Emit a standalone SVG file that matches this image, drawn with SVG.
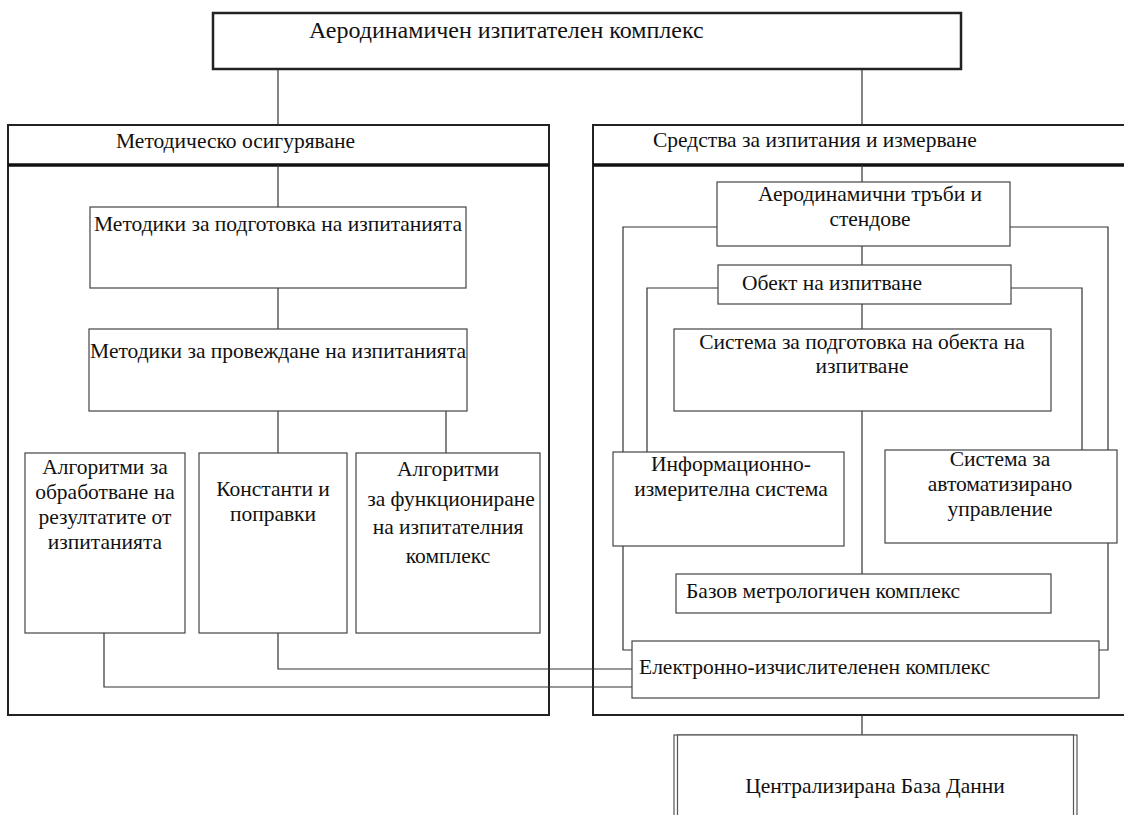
<svg xmlns="http://www.w3.org/2000/svg" width="1124" height="815" viewBox="0 0 1124 815">
<style>
text{font-family:"Liberation Serif","Times New Roman",serif;font-size:21.5px;fill:#111}
.c{text-anchor:middle}
.box{fill:#fff;stroke:#444;stroke-width:1.2}
.panel{fill:#fff;stroke:#222;stroke-width:2}
.hdr{stroke:#111;stroke-width:3.5}
.top{fill:#fff;stroke:#222;stroke-width:2.5}
.dbl{fill:#fff;stroke:#555;stroke-width:1.2}
#connectors path{fill:none;stroke:#333;stroke-width:1.2}
</style>
<rect width="1124" height="815" fill="#fff"/>
<g id="panel-left">
<rect class="panel" x="8" y="125" width="541" height="590"/>
<line class="hdr" x1="8" y1="165" x2="549" y2="165"/>
<text x="116" y="148">Методическо осигуряване</text>
</g>
<g id="panel-right">
<rect class="panel" x="593" y="125" width="545" height="590"/>
<line class="hdr" x1="593" y1="165" x2="1124" y2="165"/>
<text x="653" y="147">Средства за изпитания и измерване</text>
</g>
<g id="connectors">
<path d="M278,69V125"/>
<path d="M862,69V125"/>
<path d="M278,165V207"/>
<path d="M278,288V329"/>
<path d="M278,411V453"/>
<path d="M446,411V453"/>
<path d="M104,633V687H632"/>
<path d="M278,633V669H632"/>
<path d="M862,165V182"/>
<path d="M717,227H623V650H632"/>
<path d="M1010,227H1108V650H1099"/>
<path d="M862,246V265"/>
<path d="M718,288H647V452"/>
<path d="M1011,288H1082V450"/>
<path d="M862,304V329"/>
<path d="M862,411V574"/>
<path d="M862,715V735"/>
</g>
<g id="top">
<rect class="top" x="213" y="13" width="748" height="56"/>
<text x="309" y="38" style="font-size:24px">Аеродинамичен изпитателен комплекс</text>
</g>
<g id="m-podgotovka">
<rect class="box" x="90" y="207" width="376" height="81"/>
<text class="c" x="278" y="231">Методики за подготовка на изпитанията</text>
</g>
<g id="m-provezhdane">
<rect class="box" x="89" y="329" width="378" height="82"/>
<text class="c" x="278" y="358">Методики за провеждане на изпитанията</text>
</g>
<g id="algoritmi-obr">
<rect class="box" x="25" y="453" width="160" height="180"/>
<text class="c" x="105" y="474">Алгоритми за</text>
<text class="c" x="105" y="499">обработване на</text>
<text class="c" x="105" y="524">резултатите от</text>
<text class="c" x="105" y="549">изпитанията</text>
</g>
<g id="konstanti">
<rect class="box" x="199" y="453" width="148" height="180"/>
<text class="c" x="273" y="496">Константи и</text>
<text class="c" x="273" y="521">поправки</text>
</g>
<g id="algoritmi-funk">
<rect class="box" x="356" y="453" width="184" height="180"/>
<text class="c" x="448" y="476">Алгоритми</text>
<text class="c" x="451" y="506">за функциониране</text>
<text class="c" x="448" y="534">на изпитателния</text>
<text class="c" x="448" y="563">комплекс</text>
</g>
<g id="aero-trubi">
<rect class="box" x="717" y="182" width="293" height="64"/>
<text class="c" x="870" y="201">Аеродинамични тръби и</text>
<text class="c" x="870" y="226">стендове</text>
</g>
<g id="obekt">
<rect class="box" x="718" y="265" width="293" height="39"/>
<text x="742" y="290">Обект на изпитване</text>
</g>
<g id="sistema-podgotovka">
<rect class="box" x="674" y="329" width="377" height="82"/>
<text class="c" x="862" y="349">Система за подготовка на обекта на</text>
<text class="c" x="862" y="373">изпитване</text>
</g>
<g id="iis">
<rect class="box" x="613" y="452" width="231" height="94"/>
<text class="c" x="731" y="471">Информационно-</text>
<text class="c" x="731" y="496">измерителна система</text>
</g>
<g id="sau">
<rect class="box" x="885" y="450" width="232" height="93"/>
<text class="c" x="1000" y="466">Система за</text>
<text class="c" x="1000" y="491">автоматизирано</text>
<text class="c" x="1000" y="516">управление</text>
</g>
<g id="bazov">
<rect class="box" x="676" y="574" width="375" height="39"/>
<text x="686" y="598">Базов метрологичен комплекс</text>
</g>
<g id="eik">
<rect class="box" x="632" y="641" width="467" height="57"/>
<text x="639" y="674">Електронно-изчислителенен комплекс</text>
</g>
<g id="cbd">
<rect class="dbl" x="674" y="735" width="403" height="100"/>
<rect class="dbl" x="677.5" y="735" width="396" height="100"/>
<text class="c" x="875" y="793">Централизирана База Данни</text>
</g>
</svg>
